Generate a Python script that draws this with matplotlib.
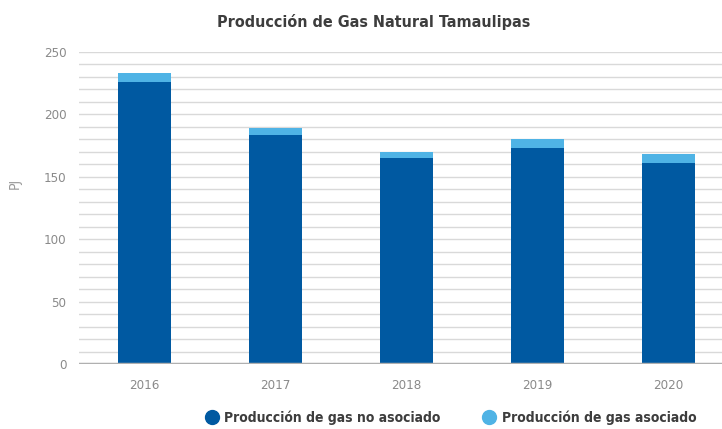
import matplotlib
matplotlib.use("Agg")
import matplotlib.pyplot as plt
from matplotlib.lines import Line2D
import numpy as np

years = ["2016", "2017", "2018", "2019", "2020"]
no_asociado = [226, 183.5, 165, 173, 161]
asociado = [7.5, 6, 5, 7, 7]
series_names = ["Producción de gas no asociado", "Producción de gas asociado"]

DARK = "#0059A1"
LIGHT = "#4FB3E5"
GRAY = "#9a9a9a"

plt.rcParams["font.family"] = ["DejaVu Sans"]
plt.rcParams["font.stretch"] = "condensed"

fig = plt.figure(figsize=(7.22, 4.29), dpi=100)
ax = fig.add_axes([79 / 722, 65 / 429, 655 / 722, 312 / 429])

x = np.arange(len(years))
ax.bar(x, no_asociado, width=0.41, color=DARK, zorder=3)
ax.bar(x, asociado, width=0.41, bottom=no_asociado, color=LIGHT, zorder=3)

ax.set_xlim(-0.5, len(years) - 0.5)
ax.set_ylim(0, 250)
ax.set_yticks(np.arange(0, 251, 50))
ax.set_yticks(np.arange(0, 251, 10), minor=True)
ax.grid(axis="y", which="both", color="#d9d9d9", linewidth=1.0, zorder=0)
ax.axhline(0, color="#b0b0b0", linewidth=2.5, zorder=4)

ax.set_xticks(x)
ax.set_xticklabels(years)
ax.tick_params(axis="both", which="both", length=0, colors="#8a8a8a", labelsize=9.5)
ax.tick_params(axis="x", pad=11)
ax.tick_params(axis="y", pad=9)
for s in ax.spines.values():
    s.set_visible(False)

ax.set_ylabel("PJ", color=GRAY, fontsize=10)
ax.yaxis.set_label_coords(-0.087, 0.58)

fig.text(374 / 722, 1 - 22 / 429, "Producción de Gas Natural Tamaulipas",
         ha="center", va="center", fontsize=11.5, fontweight="bold", color="#3d3d3d")

handles = [Line2D([], [], marker="o", linestyle="none", markersize=10, color=c)
           for c in (DARK, LIGHT)]
fig.legend(handles, series_names, loc="center left", bbox_to_anchor=(205 / 722, 1 - 418 / 429),
           ncol=2, frameon=False, handlelength=1.0, handletextpad=0.4, columnspacing=3.0,
           prop={"weight": "bold", "size": 10}, labelcolor="#3d3d3d",
           borderaxespad=0, borderpad=0)

fig.savefig("out.png", dpi=100)
